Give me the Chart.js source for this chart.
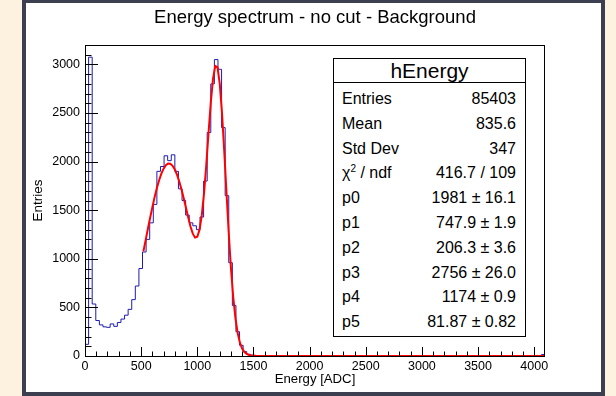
<!DOCTYPE html>
<html>
<head>
<meta charset="utf-8">
<script src="https://cdn.jsdelivr.net/npm/chart.js@4.4.0/dist/chart.umd.min.js"></script>
<style>
  body { margin: 0; background: #fdf2e0; font-family: "Liberation Sans", Arial, sans-serif; }
  #panel { position: absolute; left: 22px; top: -1px; width: 575px; height: 389px; border: 4px solid #3b3f4f; background: #fff; }
  #myChart { position: absolute; left: 0; top: 0; }
  #stats { position: absolute; left: 333px; top: 58px; width: 191px; height: 277px; border: 1px solid #000; background: #fff; color: #000; }
  #stats .head { height: 23px; line-height: 23px; font-size: 21px; text-align: center; border-bottom: 1px solid #000; }
  #stats .row { position: absolute; left: 8px; right: 9px; height: 25px; line-height: 25px; font-size: 16px; }
  #stats .row span:last-child { float: right; }
  sup { font-size: 10px; line-height: 0; }
</style>
</head>
<body>
<div id="panel"></div>
<canvas id="myChart" width="616" height="396"></canvas>
<div id="stats"></div>
<script>
// histogram hEnergy: 128 bins of 32 ADC from 0 to 4096
const binWidth = 32;
const counts = [
    120, 3075, 535, 365, 320, 300, 295, 330, 305, 345,
    380, 420, 480, 580, 720, 900, 1070, 1200, 1370, 1560,
    1900, 1950, 2060, 2010, 2070, 1900, 1720, 1600, 1450, 1370,
    1340, 1300, 1430, 1800, 2300, 2800, 3050, 2950, 2350, 1650,
    960, 520, 250, 110, 45, 18, 8, 4, 2, 1,
    1, 0, 0, 1, 0, 0, 0, 0, 0, 0,
    0, 0, 0, 0, 0, 0, 0, 0, 0, 0,
    0, 0, 0, 0, 0, 0, 0, 0, 0, 0,
    0, 0, 0, 0, 0, 0, 0, 0, 0, 0,
    0, 0, 0, 0, 0, 0, 0, 0, 0, 0,
    0, 0, 0, 0, 0, 0, 0, 0, 0, 0,
    0, 0, 0, 0, 0, 0, 0, 0, 0, 0,
    0, 0, 0, 0, 0, 0, 0, 15
];

// fitted double gaussian (red line)
const fitX = [
    520, 540, 560, 580, 600, 620, 640, 660, 680, 700,
    720, 740, 760, 780, 800, 820, 840, 860, 880, 900,
    920, 940, 960, 980, 1000, 1020, 1040, 1060, 1080, 1100,
    1120, 1140, 1160, 1180, 1200, 1220, 1240, 1260, 1280, 1300,
    1320, 1340, 1360, 1380, 1400, 1420, 1440, 1460, 1480, 1500,
    1520, 1540, 1560, 1600, 4096
];
const fitY = [
    1076, 1192, 1309, 1423, 1532, 1635, 1728, 1809, 1877, 1928,
    1963, 1980, 1978, 1957, 1919, 1864, 1793, 1711, 1618, 1520,
    1421, 1330, 1259, 1218, 1227, 1300, 1449, 1676, 1968, 2294,
    2607, 2854, 2985, 2970, 2800, 2498, 2107, 1679, 1263, 898,
    604, 385, 233, 134, 74, 40, 21, 11, 6, 4,
    2, 1, 1, 0, 0
];

const xTicks = [0, 500, 1000, 1500, 2000, 2500, 3000, 3500, 4000];
const yTicks = [0, 500, 1000, 1500, 2000, 2500, 3000];
const xMax = 4096;
const yMax = 3200;
const minorStep = 100;

const statLabels = ['Entries', 'Mean', 'Std Dev', 'χ<sup>2</sup> / ndf', 'p0', 'p1', 'p2', 'p3', 'p4', 'p5'];
const statValues = ['85403', '835.6', '347', '416.7 / 109', '1981 ± 16.1', '747.9 ± 1.9',
    '206.3 ± 3.6', '2756 ± 26.0', '1174 ± 0.9', '81.87 ± 0.82'];

function init() {
    const stats = document.getElementById('stats');
    let html = '<div class="head">hEnergy</div>';
    statLabels.forEach(function (lab, i) {
        html += '<div class="row" style="top:' + (27 + i * 24.8) + 'px"><span>' + lab +
            '</span><span>' + statValues[i] + '</span></div>';
    });
    stats.innerHTML = html;

    const histPoints = counts.map(function (c, i) { return { x: i * binWidth, y: c }; });
    histPoints.push({ x: xMax, y: counts[counts.length - 1] });
    const fitPoints = fitX.map(function (x, i) { return { x: x, y: fitY[i] }; });

    // ROOT style ticks inside the frame + frame box
    const rootFrame = {
        id: 'rootFrame',
        afterDatasetsDraw(chart) {
            const c = chart.ctx, a = chart.chartArea;
            const xs = chart.scales.x, ys = chart.scales.y;
            c.save();
            c.strokeStyle = '#000';
            c.lineWidth = 1;
            c.beginPath();
            for (let v = 0; v <= xMax; v += minorStep) {
                const px = Math.round(xs.getPixelForValue(v)) + 0.5;
                const len = v % 500 === 0 ? 9 : 4.5;
                c.moveTo(px, a.bottom);
                c.lineTo(px, a.bottom - len);
            }
            for (let v = 0; v <= yMax; v += minorStep) {
                const py = Math.round(ys.getPixelForValue(v)) + 0.5;
                const len = v % 500 === 0 ? 13 : 6.5;
                c.moveTo(a.left, py);
                c.lineTo(a.left + len, py);
            }
            c.stroke();
            c.strokeRect(Math.round(a.left) + 0.5, Math.round(a.top) + 0.5,
                Math.round(a.right - a.left) - 1, Math.round(a.bottom - a.top));
            c.restore();
        }
    };

    const plain = function (v) { return String(v); };

    const ctx = document.getElementById('myChart');
    new Chart(ctx, {
        type: 'line',
        data: {
            datasets: [
                {
                    label: 'fit',
                    data: fitPoints,
                    borderColor: '#ff0000',
                    borderWidth: 2,
                    pointRadius: 0,
                    order: 0
                },
                {
                    label: 'hEnergy',
                    data: histPoints,
                    stepped: 'before',
                    borderColor: '#1c1cb4',
                    borderWidth: 1,
                    pointRadius: 0,
                    order: 1
                }
            ]
        },
        plugins: [rootFrame],
        options: {
            responsive: false,
            animation: false,
            layout: { padding: { left: 27, right: 71, top: 3, bottom: 5 } },
            plugins: {
                legend: { display: false },
                tooltip: { enabled: false },
                title: {
                    display: true,
                    fullSize: false,
                    text: 'Energy spectrum - no cut - Background',
                    color: '#000',
                    font: { family: 'Liberation Sans', size: 18.5, weight: 'normal' },
                    padding: { top: 3.5, bottom: 16.3 }
                }
            },
            scales: {
                x: {
                    type: 'linear',
                    min: 0,
                    max: xMax,
                    grid: { display: false, drawTicks: false },
                    border: { display: false },
                    afterBuildTicks: function (s) { s.ticks = xTicks.map(function (v) { return { value: v }; }); },
                    afterFit: function (s) { s.height = 35; },
                    ticks: {
                        autoSkip: false, maxRotation: 0, padding: 3, color: '#000',
                        font: { family: 'Liberation Sans', size: 12.5 },
                        callback: plain
                    },
                    title: {
                        display: true, text: 'Energy [ADC]', color: '#000',
                        font: { family: 'Liberation Sans', size: 13.2 },
                        padding: { top: 0, bottom: 3.5 }
                    }
                },
                y: {
                    min: 0,
                    max: yMax,
                    grid: { display: false, drawTicks: false },
                    border: { display: false },
                    afterBuildTicks: function (s) { s.ticks = yTicks.map(function (v) { return { value: v }; }); },
                    afterFit: function (s) { s.width = 58; },
                    ticks: {
                        autoSkip: false, padding: 5, color: '#000',
                        font: { family: 'Liberation Sans', size: 12.5 },
                        callback: plain
                    },
                    title: {
                        display: true, text: 'Entries', color: '#000',
                        font: { family: 'Liberation Sans', size: 13.5 },
                        padding: { top: 3, bottom: 0 }
                    }
                }
            }
        }
    });
}

window.addEventListener('load', init);
</script>
</body>
</html>
